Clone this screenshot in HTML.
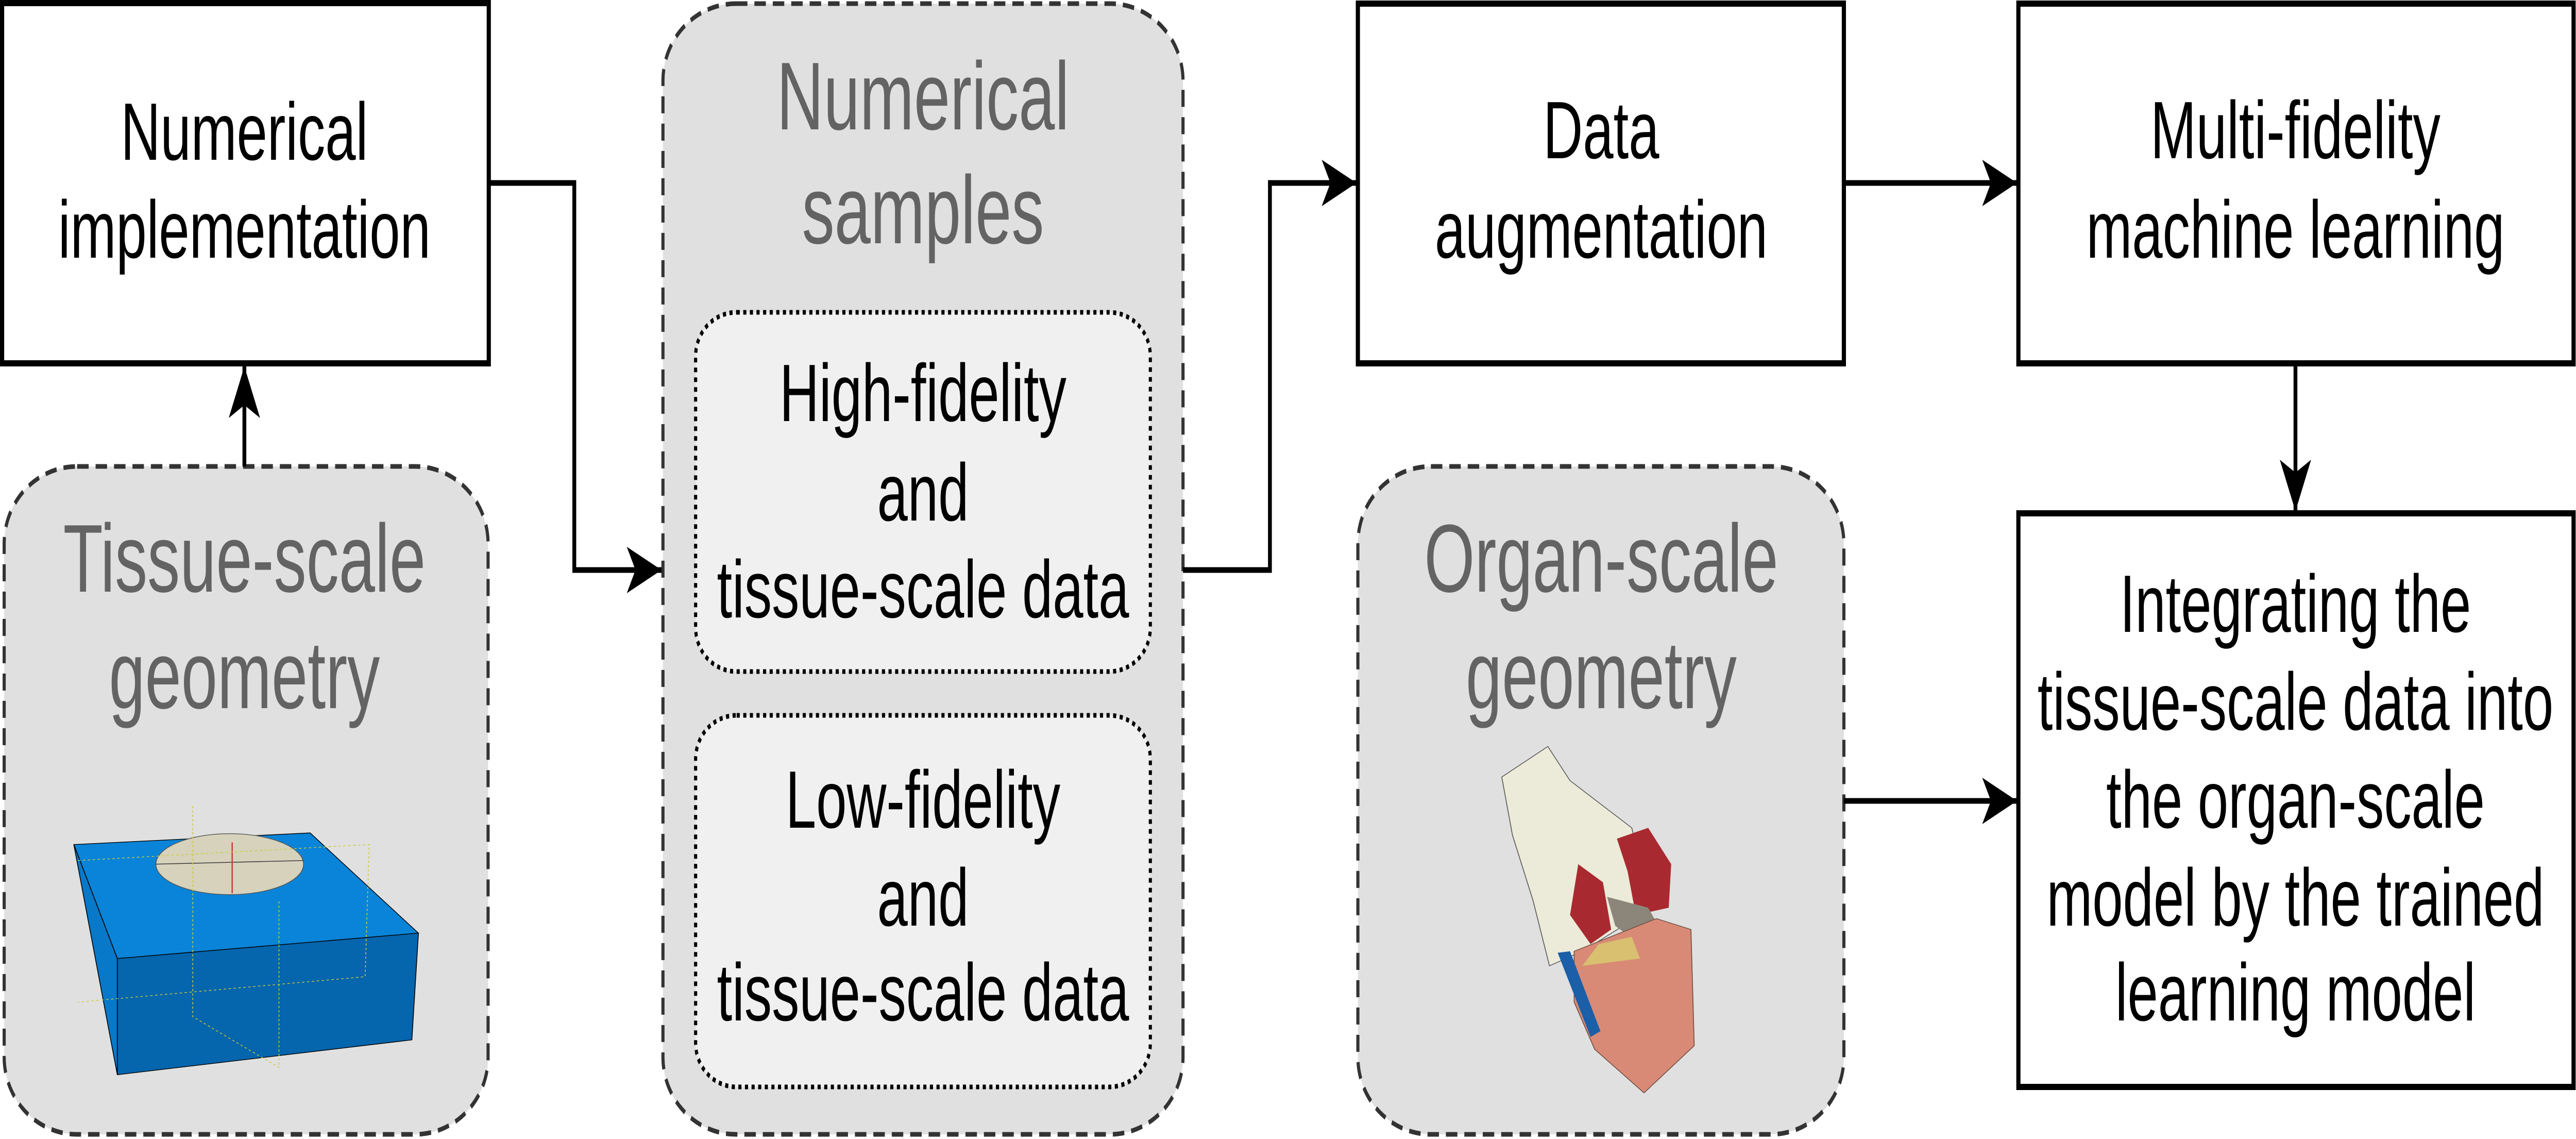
<!DOCTYPE html>
<html><head><meta charset="utf-8"><style>html,body{margin:0;padding:0;background:#fff;width:100%;height:100%;overflow:hidden}svg{display:block;width:100vw;height:100vh}</style></head>
<body>
<svg xmlns="http://www.w3.org/2000/svg" viewBox="0 0 7410 2210" preserveAspectRatio="none" font-family="'Liberation Sans', Arial, sans-serif">
<defs>
<marker id="ah" markerUnits="userSpaceOnUse" markerWidth="100" markerHeight="100" viewBox="0 0 100 100" refX="100" refY="50" orient="auto">
<path d="M0,5 L100,50 L0,95 L25,50 Z" fill="#000"/>
</marker>
</defs>
<rect width="7410" height="2210" fill="#fff"/>

<rect x="12" y="905" width="1392" height="1296" rx="210" ry="150" fill="#e0e0e0" stroke="#333" stroke-width="9" stroke-dasharray="33,20"/>
<rect x="1907" y="7" width="1496" height="2194" rx="210" ry="150" fill="#e0e0e0" stroke="#333" stroke-width="9" stroke-dasharray="33,20"/>
<rect x="3906" y="905" width="1398" height="1296" rx="210" ry="150" fill="#e0e0e0" stroke="#333" stroke-width="9" stroke-dasharray="33,20"/>

<rect x="2001" y="606" width="1308" height="697" rx="118" ry="85" fill="#f0f0f0" stroke="#000" stroke-width="9" stroke-dasharray="9,10"/>
<rect x="2001" y="1388" width="1308" height="721" rx="118" ry="85" fill="#f0f0f0" stroke="#000" stroke-width="9" stroke-dasharray="9,10"/>

<g fill="#fff" stroke="#000" stroke-width="12">
<rect x="6" y="6" width="1400" height="699"/>
<rect x="3906" y="7" width="1398" height="698"/>
<rect x="5806" y="7" width="1597" height="698"/>
<rect x="5806" y="996" width="1597" height="1113"/>
</g>

<g fill="none" stroke="#000" stroke-width="11">
<polyline points="1406,355 1652,355 1652,1106 1903,1106" marker-end="url(#ah)"/>
<polyline points="703,905 703,711" marker-end="url(#ah)"/>
<polyline points="3403,1106 3653,1106 3653,355 3902,355" marker-end="url(#ah)"/>
<polyline points="5304,355 5802,355" marker-end="url(#ah)"/>
<polyline points="6603,705 6603,992" marker-end="url(#ah)"/>
<polyline points="5304,1554 5802,1554" marker-end="url(#ah)"/>
</g>

<g font-size="158" text-anchor="middle" fill="#000">
<text x="703" y="310">Numerical</text>
<text x="703" y="500">implementation</text>
<text x="2655" y="817">High-fidelity</text>
<text x="2655" y="1010">and</text>
<text x="2655" y="1198">tissue-scale data</text>
<text x="2655" y="1606">Low-fidelity</text>
<text x="2655" y="1796">and</text>
<text x="2655" y="1980">tissue-scale data</text>
<text x="4606" y="307">Data</text>
<text x="4606" y="500">augmentation</text>
<text x="6603" y="307">Multi-fidelity</text>
<text x="6603" y="500">machine learning</text>
<text x="6603" y="1226">Integrating the</text>
<text x="6603" y="1416">tissue-scale data into</text>
<text x="6603" y="1606">the organ-scale</text>
<text x="6603" y="1796">model by the trained</text>
<text x="6603" y="1980">learning model</text>
</g>
<g font-size="187" text-anchor="middle" fill="#636363">
<text x="703" y="1148">Tissue-scale</text>
<text x="703" y="1374">geometry</text>
<text x="2655" y="251">Numerical</text>
<text x="2655" y="472">samples</text>
<text x="4606" y="1148">Organ-scale</text>
<text x="4606" y="1374">geometry</text>
</g>

<g transform="scale(2.36,1.409)">
<polygon points="90,1163 378,1147 510,1285 143,1320" fill="#0a84d8" stroke="#000" stroke-width="1"/>
<polygon points="143,1320 510,1285 502,1432 143,1480" fill="#0565ad" stroke="#000" stroke-width="1"/>
<polygon points="90,1163 143,1320 143,1480" fill="#0878c8" stroke="#000" stroke-width="1"/>
<ellipse cx="280" cy="1190" rx="90" ry="42" fill="#d6d2bc" stroke="#555" stroke-width="1"/>
<line x1="190" y1="1190" x2="370" y2="1185" stroke="#333" stroke-width="1"/>
<line x1="283" y1="1160" x2="283" y2="1230" stroke="#c33" stroke-width="1.5"/>
<polyline points="235,1110 235,1400 340,1470 340,1240" fill="none" stroke="#cc3" stroke-width="1" stroke-dasharray="3,3"/>
<polyline points="95,1185 450,1163 445,1345 95,1380" fill="none" stroke="#cc3" stroke-width="1" stroke-dasharray="3,3"/>
</g>

<g transform="translate(3700,0) scale(2.366,1.409)">
<path d="M262,1070 L318,1028 L345,1075 L420,1140 L445,1250 L360,1310 L320,1330 L300,1240 L275,1150 Z" fill="#ecebd9" stroke="#555" stroke-width="1"/>
<path d="M402,1155 L440,1140 L468,1190 L465,1250 L425,1260 L415,1200 Z" fill="#a82a30"/>
<path d="M355,1190 L385,1215 L395,1280 L370,1300 L345,1260 Z" fill="#a82a30"/>
<path d="M390,1235 L440,1250 L460,1290 L430,1300 L400,1275 Z" fill="#8c867a"/>
<path d="M350,1310 L450,1265 L492,1280 L496,1440 L435,1505 L375,1445 L350,1380 Z" fill="#d98a76" stroke="#6a4a40" stroke-width="1"/>
<path d="M380,1300 L420,1290 L430,1320 L360,1330 Z" fill="#d8c070"/>
<path d="M330,1312 L345,1310 L382,1420 L370,1428 Z" fill="#1a5fa8"/>
</g>
</svg>
</body></html>
